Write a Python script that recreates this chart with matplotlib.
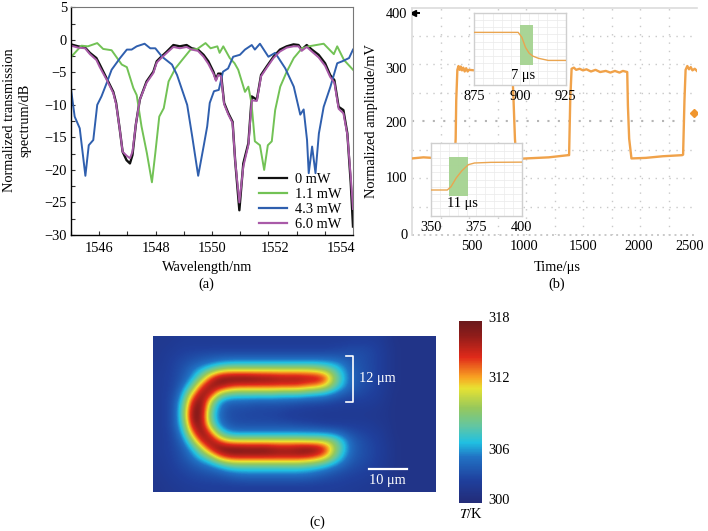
import numpy as np
import matplotlib
matplotlib.use("Agg")
import matplotlib.pyplot as plt
from matplotlib.colors import LinearSegmentedColormap
from matplotlib.transforms import ScaledTranslation

plt.rcParams['font.family'] = ['Liberation Serif', 'DejaVu Serif']
plt.rcParams['mathtext.fontset'] = 'stix'
W, H = 708, 531
FS = 10.4

# ---------- panel (a) data ----------
series_labels = ['0 mW', '1.1 mW', '4.3 mW', '6.0 mW']
wl_dip = [1545, 1545.25, 1545.5, 1545.67, 1545.9, 1546.02, 1546.26, 1546.5, 1546.6, 1546.73, 1546.83, 1546.97,
          1547.09, 1547.18, 1547.3, 1547.44, 1547.68, 1547.92, 1548.04, 1548.2, 1548.4, 1548.63, 1548.86, 1549.1,
          1549.28, 1549.5, 1549.7, 1549.87, 1550.05, 1550.14, 1550.22, 1550.32, 1550.43, 1550.58, 1550.73, 1550.82,
          1550.97, 1551.11, 1551.29, 1551.41, 1551.59, 1551.74, 1551.94, 1552.18, 1552.41, 1552.65, 1552.89, 1553.07,
          1553.18, 1553.36, 1553.54, 1553.78, 1554.01, 1554.19, 1554.34, 1554.49, 1554.66, 1554.8, 1554.92, 1555]
p_0mw = [-0.7, -1, -1.2, -2, -2.8, -3.8, -5.9, -8, -9.7, -13.8, -17.2, -18.5, -19, -17.7, -13, -9.2, -6.4, -4.9, -3.3,
         -2.6, -1.8, -0.8, -1, -0.8, -1.3, -1.5, -2.3, -3.3, -4.9, -6.1, -5.2, -5.2, -9.7, -11.3, -12.6, -18.5, -26.2,
         -19, -15.9, -8.7, -9.2, -5.4, -4.1, -2.6, -1.5, -1, -0.7, -0.8, -1.5, -0.8, -1.5, -2.3, -3.6, -5.4, -6.2,
         -10.3, -10.8, -14.4, -22, -28.7]
p_6mw = [-0.9, -1.2, -1.3, -2.2, -3.1, -4.2, -6.1, -8.2, -9.9, -13.8, -17.2, -17.8, -18.2, -17.2, -13, -9.2, -6.6, -5.1,
         -3.5, -2.8, -2, -1.1, -1.3, -1.1, -1.5, -1.7, -2.6, -3.7, -5.2, -6.3, -5.4, -5.6, -9.9, -11.5, -12.8, -18.5,
         -25, -19.5, -16.2, -9.3, -9.4, -5.6, -4.3, -2.8, -1.8, -1.2, -1, -1, -1.7, -1.1, -1.8, -2.7, -4, -5.7, -6.6,
         -10.6, -11.3, -14.6, -21, -26]
wl_11 = [1545.01, 1545.37, 1545.6, 1545.93, 1546.14, 1546.44, 1546.8, 1546.98, 1547.21, 1547.33, 1547.5, 1547.69,
         1547.87, 1547.99, 1548.13, 1548.29, 1548.46, 1548.7, 1548.94, 1549.24, 1549.48, 1549.77, 1549.95, 1550.19,
         1550.27, 1550.4, 1550.63, 1550.8, 1550.93, 1551.17, 1551.29, 1551.4, 1551.52, 1551.7, 1551.85, 1551.98,
         1552.12, 1552.24, 1552.42, 1552.65, 1552.9, 1553.19, 1553.43, 1553.96, 1554.32, 1554.44, 1554.68, 1555]
p_11 = [-2.6, -0.9, -1, -0.5, -1.4, -1.6, -3.8, -4.2, -7.4, -8.5, -13.3, -17.4, -21.9, -17.4, -11.8, -10.5, -6.4, -4.4,
        -3.1, -1.5, -1.4, -0.5, -1.3, -1, -2, -1, -2.8, -3.6, -4.6, -8, -7.2, -9.7, -15.6, -16.2, -20, -16.2, -15.6,
        -10.8, -7.2, -4.9, -2.8, -1.3, -1, -0.6, -2.2, -1, -3.1, -4.6]
wl_43 = [1545.01, 1545.13, 1545.31, 1545.51, 1545.63, 1545.79, 1545.93, 1546.08, 1546.26, 1546.44, 1546.74, 1546.98,
         1547.15, 1547.33, 1547.61, 1547.81, 1547.99, 1548.23, 1548.58, 1548.76, 1548.94, 1549.12, 1549.3, 1549.51,
         1549.71, 1549.83, 1549.92, 1550.07, 1550.24, 1550.39, 1550.57, 1550.75, 1550.99, 1551.17, 1551.41, 1551.52,
         1551.7, 1552, 1552.24, 1552.6, 1552.9, 1553.13, 1553.25, 1553.37, 1553.43, 1553.55, 1553.67, 1553.79,
         1553.96, 1554.2, 1554.44, 1554.62, 1554.86, 1555]
p_43 = [-7.9, -11.8, -13.6, -20.9, -16.2, -15.4, -10, -8.7, -6.7, -4.6, -2.8, -1.5, -1.5, -1, -0.6, -1.3, -1.3, -2.6,
        -3.8, -5.4, -7.7, -10, -14.9, -20.9, -16.2, -13.3, -9.7, -7.9, -7.7, -4.9, -4.4, -2.6, -2.3, -1.5, -0.8, -1.5,
        -0.6, -2.6, -2, -4.4, -7.2, -11.5, -10.7, -15.4, -20.5, -16.4, -20.5, -14.4, -10.3, -7.2, -3.6, -3.3, -2.8,
        -1.5]
a_xticks = [1546, 1548, 1550, 1552, 1554]
a_yticks = [5, 0, -5, -10, -15, -20, -25, -30]
a_ylabels = ['5', '0', '\u22125', '\u221210', '\u221215', '\u221220', '\u221225', '\u221230']

# ---------- panel (b) data ----------
trace_t = [0, 100, 180, 300, 375, 383, 388, 398, 408, 418, 428, 438, 450, 462, 475, 488, 500, 700, 880, 889, 896, 903,
           915, 1000, 1200, 1370, 1378, 1388, 1400, 1420, 1440, 1470, 1500, 1530, 1570, 1610, 1650, 1700, 1740, 1780,
           1820, 1850, 1888, 1894, 1905, 1925, 2050, 2200, 2370, 2378, 2390, 2400, 2415, 2430, 2445, 2460, 2480, 2500]
trace_v = [134, 136, 135, 137, 137, 170, 240, 296, 303, 296, 302, 295, 300, 293, 299, 293, 296, 292, 290, 250, 210,
           170, 133, 134, 136, 140, 140, 240, 298, 300, 296, 298, 295, 297, 293, 296, 292, 294, 291, 294, 291, 294, 292,
           230, 170, 134, 135, 138, 140, 141, 240, 296, 303, 297, 301, 295, 298, 294]
b_xticks = [500, 1000, 1500, 2000, 2500]
b_yticks = [400, 300, 200, 100, 0]
in1_t = [875, 899, 901, 903, 905, 907, 910, 915.5, 925]
in1_v = [.728, .728, .66, .52, .44, .40, .37, .34, .34]
in1_ticks = [875, 900, 925]
in2_t = [350, 359, 361, 364, 367, 370.6, 374, 383, 400]
in2_v = [.355, .355, .40, .525, .62, .705, .728, .737, .74]
in2_ticks = [350, 375, 400]

# ---------- panel (c) data: temperature rise above 300 K ----------
heat_rows = [
 [1.5,1.5,1.6,1.8,1.8,1.8,1.8,1.8,1.8,1.8,1.8,1.8,1.8,1.8,1.8,1.8,1.8,1.8,1.8,1.8,1.8,1.8,1.9,1.9,1.9,1.8,1.4,1,1,1,1,1],
 [1.5,1.6,1.8,2,2,2,2,2,2,2,2,2,2,2,2,2,2,2,2,2,2.2,2.3,2.5,2.5,2.4,2.1,1.5,1.1,1,1,1,1],
 [1.5,1.8,2.1,2.4,2.6,2.8,2.9,3,3,3,3,3,3,3,3,3,3,3,3,3,3,3,3,2.9,2.6,2.2,1.6,1.1,1,1,1,1],
 [1.6,1.9,2.4,2.8,3.3,3.8,4.3,4.9,5.3,5.5,5.5,5.5,5.5,5.5,5.5,5.5,5.5,5.5,5.5,5.3,5,4.3,3.4,3,2.6,2.2,1.6,1.1,1,1,1,1],
 [1.7,2,2.5,3.2,4.5,6,8,10,11,11,11,11,11,11,11,11,11,11,10.5,9.5,7.5,5.5,3.8,3.1,2.7,2.2,1.6,1.1,1,1,1,1],
 [1.8,2.1,2.6,3.5,5.5,9,14,17,17.5,17.8,17.8,17.5,17.2,17,16.5,16.5,16.5,16,16,14.5,9.5,6,4,3.1,2.7,2.2,1.6,1.1,1,1,1,1],
 [1.8,2.1,2.7,4.5,8,14,17,16.5,15,14,14,14,14,14,14,14,13.8,13,12.5,11,8,5.5,3.7,3,2.6,2.1,1.5,1.1,1,1,1,1],
 [1.8,2.2,3,6,12,17,15.5,10,8,7.5,7.5,7.5,7.5,7.5,7,7,7,6.5,6,5.5,4.5,3.5,3,2.6,2.3,2,1.4,1,1,1,1,1],
 [1.8,2.2,3.4,7.5,15.5,17.5,10.5,5.5,4,3.8,3.8,3.5,3.5,3.5,3.5,3.4,3.2,3,3,2.8,2.5,2.3,2.2,2.1,2,1.7,1.3,1,1,1,1,1],
 [1.8,2.2,3.5,8.5,17,17,8.5,4.5,3,2.8,2.7,2.6,2.5,2.5,2.4,2.2,2.1,2,1.9,1.8,1.8,1.7,1.7,1.7,1.6,1.5,1.2,1,1,1,1,1],
 [1.8,2.2,3.5,8.5,17.5,16.5,8,4.3,3,2.7,2.6,2.5,2.5,2.4,2.2,2,1.9,1.8,1.7,1.6,1.6,1.6,1.6,1.6,1.5,1.4,1.2,1,1,1,1,1],
 [1.8,2.2,3.5,7.5,16,17,9.5,5,3.5,3,3,3,3,3,3,3,2.8,2.7,2.5,2.3,2.2,2.2,2.1,2,1.9,1.6,1.3,1,1,1,1,1],
 [1.8,2.1,3.1,6,13,17.5,14,8,5.5,5,5,5,5,5,5,5,5,5,5,4.8,4.5,3.6,2.9,2.5,2.2,1.9,1.4,1,1,1,1,1],
 [1.8,2.1,2.8,4.6,9,15,17,14,11.5,11,11,11,11,11,11,11,11,10.5,10.5,10,8.5,6,3.8,3,2.5,2.1,1.5,1.1,1,1,1,1],
 [1.8,2.1,2.6,3.6,6,10,15,17.5,17.8,17.8,17.5,17.5,17.5,17,16.5,16.5,17,17.5,17,15,10,6.5,4,3.1,2.6,2.2,1.6,1.1,1,1,1,1],
 [1.7,2,2.5,3.2,4.5,6.5,9,13,15,15.5,15.5,15.5,15.5,15.5,15.5,15.5,15.5,15,14,12,8.5,5.5,3.7,3,2.6,2.1,1.6,1.1,1,1,1,1],
 [1.6,1.9,2.3,2.8,3.4,4.2,5,6.5,8,8.5,8.5,8.5,8.5,8.5,8.5,8.5,8.5,8,7.5,6.5,5.2,4,3.1,2.7,2.4,2,1.5,1.1,1,1,1,1],
 [1.5,1.8,2.1,2.4,2.7,3,3.3,3.7,4.3,4.8,5,5,5,5,5,5,5,4.8,4.3,3.8,3.2,2.8,2.5,2.3,2.1,1.8,1.4,1,1,1,1,1],
 [1.4,1.6,1.9,2.1,2.3,2.4,2.5,2.6,2.8,3,3.1,3.1,3.1,3.1,3.1,3.1,3.1,3,2.8,2.6,2.4,2.3,2.1,2,1.8,1.6,1.3,1,1,1,1,1],
 [1.3,1.5,1.6,1.8,1.9,2,2,2,2,2,2,2,2,2,2,2,2,2,2,2,2,1.9,1.8,1.7,1.6,1.4,1.2,1,1,1,1,1],
]
cbar_labels = ['318', '312', '306', '300']


def box(x0, y0, x1, y1):
    return [x0 / W, 1 - y1 / H, (x1 - x0) / W, (y1 - y0) / H]


def shift(label, dx):
    label.set_transform(label.get_transform() + ScaledTranslation(dx / 100, 0, fig.dpi_scale_trans))


fig = plt.figure(figsize=(W / 100, H / 100), dpi=100, facecolor='white')

# ---------- (a) ----------
ax = fig.add_axes(box(71, 7.3, 353, 235))
ax.plot(wl_dip, p_0mw, color='#111111', lw=1.7, label=series_labels[0], solid_joinstyle='round')
ax.plot(wl_11, p_11, color='#72c255', lw=1.4, label=series_labels[1], solid_joinstyle='round')
ax.plot(wl_43, p_43, color='#2f5fae', lw=1.4, label=series_labels[2], solid_joinstyle='round')
ax.plot(wl_dip, p_6mw, color='#a95aa8', lw=1.4, label=series_labels[3], solid_joinstyle='round')
ax.set_xlim(1545, 1555)
ax.set_ylim(-30, 5)
ax.set_xticks(a_xticks)
ax.set_xticks(np.arange(1545, 1555), minor=True)
ax.set_yticks(a_yticks)
ax.set_yticklabels(a_ylabels)
ax.set_yticks(np.arange(-27.5, 5, 5), minor=True)
ax.tick_params(which='both', direction='in', length=3, width=0.8, labelsize=FS, color='#333333')
ax.tick_params(axis='x', which='major', pad=5)
ax.tick_params(axis='y', which='major', pad=3)
for i, l in enumerate(ax.get_xticklabels()):
    shift(l, [0, 0, 0, 6.5, 16][i])
for s in ('top', 'right'):
    ax.spines[s].set_color('#777777')
    ax.spines[s].set_linewidth(0.8)
for s in ('left', 'bottom'):
    ax.spines[s].set_linewidth(1.0)
ax.set_xlabel('Wavelength/nm', fontsize=FS)
ax.xaxis.set_label_coords(0.483, -0.115)
ax.set_ylabel('Normalized transmission\nspectrum/dB', fontsize=FS, linespacing=1.25, ha='center', va='center')
ax.yaxis.set_label_coords(-0.19, 0.505)
leg = ax.legend(loc='lower right', bbox_to_anchor=(1 - 7 / 282, 0.0), frameon=False, fontsize=FS, handlelength=1.95,
                handletextpad=0.55, labelspacing=0.13, borderpad=0.1, borderaxespad=0.2)
for h in leg.get_lines():
    h.set_linewidth(1.6)
fig.text(206 / W, 1 - 284 / H, '(a)', ha='center', va='center', fontsize=FS)

# ---------- (b) ----------
bx = fig.add_axes(box(412, 7.5, 697, 235))
bx.set_xlim(0, 2500)
bx.set_ylim(-6, 410)
for f in np.arange(1, 10) / 10:
    bx.axvline(2500 * f, color='#c9c9c9', lw=1.0, ls=(0, (1, 5)), zorder=1)
for i in range(1, 8):
    fy = i / 8
    bx.plot([0, 1], [fy, fy], transform=bx.transAxes, color='#b5b5b5' if i == 4 else '#c9c9c9',
            lw=1.5 if i == 4 else 1.0, ls=(0, (1, 4)), zorder=1)
bx.plot(trace_t, trace_v, color='#f0a24a', lw=1.7, zorder=3, solid_joinstyle='round')
bx.plot([0, 1], [0.002, 0.002], transform=bx.transAxes, color='#c9c9c9', lw=1.4, ls=(0, (1, 2)), clip_on=False)
bx.plot([12], [400], marker='<', ms=5, color='black', zorder=4)
bx.plot([26], [400], marker='_', ms=7, mew=1.4, color='black', zorder=4)
bx.plot([2470], [217], marker='D', ms=4, color='#f0962e', zorder=4)
bx.set_xticks(b_xticks)
bx.set_yticks([400, 300, 200, 100, -5])
bx.set_yticklabels(b_yticks)
bx.tick_params(length=0, labelsize=FS, pad=3.5)
for l, dx in zip(bx.get_xticklabels(), [2.5, -2, 0, -1, -7]):
    shift(l, dx)
for s in ('right', 'bottom'):
    bx.spines[s].set_visible(False)
for s in ('top', 'left'):
    bx.spines[s].set_color('#dcdcdc')
    bx.spines[s].set_linewidth(1.2)
bx.set_xlabel('Time/\u03bcs', fontsize=FS)
bx.xaxis.set_label_coords(0.51, -0.115)
bx.set_ylabel('Normalized amplitude/mV', fontsize=FS)
bx.yaxis.set_label_coords(-0.118, 0.5)
fig.text(557 / W, 1 - 284 / H, '(b)', ha='center', va='center', fontsize=FS)


def inset(rect, t, v, span, vspan, ticks, label, label_xy):
    a = fig.add_axes(box(*rect), zorder=5)
    a.set_xlim(ticks[0], ticks[-1])
    a.set_ylim(0, 1)
    a.grid(True, color='#ececec', lw=0.6)
    a.set_axisbelow(True)
    a.set_xticks(ticks)
    a.set_xticks(np.arange(ticks[0], ticks[-1], 5), minor=True)
    a.set_yticks(np.arange(0.1, 1, 0.1))
    a.set_yticklabels([])
    a.grid(True, which='minor', color='#ececec', lw=0.5)
    a.tick_params(which='both', length=0, labelsize=FS, pad=3.5)
    a.axvspan(span[0], span[1], ymin=vspan[0], ymax=vspan[1], color='#a5d391', lw=0, alpha=0.95, zorder=2)
    a.plot(t, v, color='#eaa550', lw=1.0, zorder=3)
    for s in a.spines.values():
        s.set_color('#cfcfcf')
        s.set_linewidth(1.0)
    fig.text(label_xy[0] / W, 1 - label_xy[1] / H, label, ha='center', va='center', fontsize=FS, zorder=7)
    return a


inset((474.3, 12.7, 565.7, 85), in1_t, in1_v, (900, 907), (0.276, 0.83), in1_ticks, '7 \u03bcs', (523, 76))
inset((431, 143.3, 521.7, 215.7), in2_t, in2_v, (360, 370.6), (0.276, 0.806), in2_ticks, '11 \u03bcs', (462.5, 204))

# ---------- (c) ----------
cmap = LinearSegmentedColormap.from_list('thermal', [
    (0.00, '#232c78'), (0.12, '#1f3f9c'), (0.25, '#2172c4'), (0.33, '#20c0e2'), (0.42, '#62c6a2'),
    (0.52, '#96c85c'), (0.63, '#e8e232'), (0.69, '#f8a222'), (0.80, '#e02a1a'), (0.92, '#8e1c1a'), (1.00, '#6a1a1c')])
cx = fig.add_axes(box(152.7, 335.5, 435, 492.3))
UM = 3.8
im = cx.imshow(np.array(heat_rows) + 300, cmap=cmap, vmin=300, vmax=318, aspect='auto', interpolation='bicubic',
               extent=[0, 282.3 / UM, 156.8 / UM, 0])
cx.set_xticks([])
cx.set_yticks([])
for s in cx.spines.values():
    s.set_visible(False)
cx.plot([50.8, 52.6, 52.6, 50.8], [5.5, 5.5, 17.6, 17.6], color='white', lw=1.2)
cx.plot([56.8, 66.8], [35, 35], color='white', lw=1.6)
cx.text(59, 11.4, '12 \u03bcm', color='white', ha='center', va='center', fontsize=FS)
cx.text(61.8, 38.2, '10 \u03bcm', color='white', ha='center', va='center', fontsize=FS)
fig.text(317 / W, 1 - 522 / H, '(c)', ha='center', va='center', fontsize=FS)

kx = fig.add_axes(box(459.3, 320.7, 481.7, 502.7))
cb = fig.colorbar(im, cax=kx)
cb.set_ticks([])
cb.outline.set_visible(False)
for lab, f in zip(cbar_labels, [1.01, 0.685, 0.287, 0.011]):
    kx.text(1.76, f, lab, transform=kx.transAxes, ha='center', va='center', fontsize=FS)
fig.text(471 / W, 1 - 514 / H, r'$\mathit{T}$/K', ha='center', va='center', fontsize=FS)

fig.savefig('out.png', dpi=100)
